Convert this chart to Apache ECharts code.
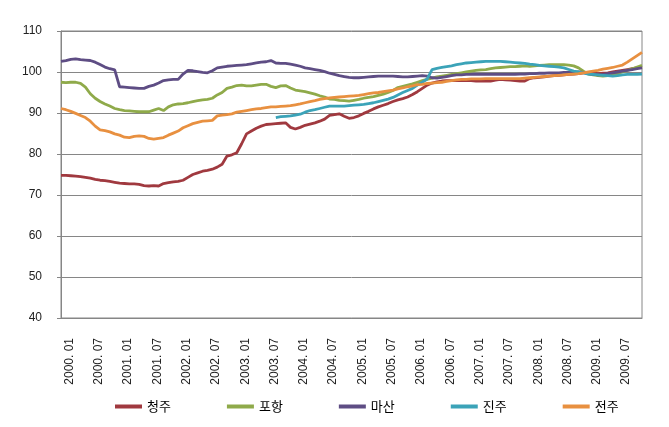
<!DOCTYPE html>
<html>
<head>
<meta charset="utf-8">
<script src="https://cdn.jsdelivr.net/npm/echarts@6/dist/echarts.min.js"></script>
<style>html,body{margin:0;padding:0;background:#fff;}#c{width:669px;height:427px;}</style>
</head>
<body>
<div id="c"></div>
<script>
// months 2000.01 .. 2009.12
var months = [];
for (var y = 2000; y <= 2009; y++) {
  for (var m = 1; m <= 12; m++) {
    months.push(y + '. ' + (m < 10 ? '0' + m : '' + m));
  }
}
var seriesNames = ['청주', '포항', '마산', '진주', '전주'];
var yTicks = [40, 50, 60, 70, 80, 90, 100, 110];

var cheongju = [
  74.8, 74.8, 74.7, 74.6, 74.5, 74.3, 74.1, 73.8, 73.6, 73.5, 73.3, 73.1,
  72.9, 72.8, 72.7, 72.7, 72.6, 72.3, 72.2, 72.3, 72.2, 72.8, 73.0, 73.2,
  73.3, 73.6, 74.3, 75.0, 75.4, 75.8, 76.0, 76.3, 76.8, 77.5, 79.5, 79.8,
  80.3, 82.5, 84.9, 85.6, 86.3, 86.8, 87.2, 87.3, 87.4, 87.5, 87.6, 86.5,
  86.1, 86.5, 87.0, 87.3, 87.6, 88.0, 88.5, 89.4, 89.6, 89.8, 89.2, 88.7,
  88.9, 89.3, 89.9, 90.4, 91.0, 91.5, 91.9, 92.3, 92.8, 93.2, 93.5, 93.9,
  94.5, 95.2, 96.0, 96.8, 97.3, 97.6, 97.8, 97.9, 97.9, 97.9, 97.9, 97.9,
  97.9, 97.8, 97.8, 97.8, 97.8, 98.0, 98.2, 98.1, 98.0, 97.9, 97.8, 97.8,
  98.4, 98.6, 98.7, 98.8, 99.0, 99.1, 99.2, 99.3, 99.4, 99.5, 99.6, 99.8,
  99.8, 99.7, 99.6, 99.7, 99.8, 100.0, 100.2, 100.4, 100.6, 100.8, 101.0, 101.2
];
var pohang = [
  97.5, 97.4, 97.5, 97.5, 97.2, 96.3, 94.7, 93.6, 92.8, 92.2, 91.7, 91.1,
  90.8, 90.6, 90.5, 90.4, 90.3, 90.3, 90.3, 90.7, 91.1, 90.6, 91.5, 92.0,
  92.2, 92.3, 92.5, 92.8, 93.0, 93.2, 93.3, 93.6, 94.4, 95.0, 96.0, 96.3,
  96.7, 96.8, 96.6, 96.6, 96.8, 97.0, 97.0, 96.5, 96.2, 96.6, 96.7, 96.1,
  95.6, 95.4, 95.2, 94.9, 94.6, 94.2, 93.9, 93.4, 93.3, 93.1, 93.0, 92.9,
  93.1, 93.3, 93.6, 93.8, 94.0, 94.3, 94.6, 95.0, 95.5, 96.2, 96.5, 96.8,
  97.1, 97.5, 97.9, 98.2, 98.5, 98.8, 99.0, 99.2, 99.4, 99.6, 99.8, 100.0,
  100.2, 100.4, 100.5, 100.6, 100.8, 101.0, 101.1, 101.2, 101.3, 101.3, 101.4, 101.5,
  101.4, 101.5, 101.6, 101.7, 101.8, 101.8, 101.8, 101.8, 101.7, 101.5, 101.0, 100.2,
  99.5, 99.3, 99.1, 99.0, 99.1, 99.3, 99.6, 100.0, 100.4, 100.8, 101.2, 101.6
];
var masan = [
  102.6, 102.8, 103.1, 103.2, 103.0, 102.9, 102.8, 102.4, 101.8, 101.2, 100.8, 100.5,
  96.4, 96.3, 96.2, 96.1, 96.0, 96.0, 96.5, 96.8, 97.3, 97.9, 98.1, 98.2,
  98.2, 99.5, 100.4, 100.3, 100.1, 99.9, 99.8, 100.3, 101.0, 101.2, 101.4, 101.5,
  101.6, 101.7, 101.8, 102.0, 102.2, 102.4, 102.5, 102.8, 102.2, 102.1, 102.1, 101.9,
  101.7, 101.4, 101.0, 100.8, 100.6, 100.4, 100.1, 99.7, 99.4, 99.1, 98.9, 98.7,
  98.6, 98.6, 98.7, 98.8, 98.9, 99.0, 99.0, 99.0, 99.0, 98.9, 98.8, 98.8,
  98.9, 99.0, 99.1, 99.0, 98.6, 98.5, 98.7, 98.9, 99.1, 99.3, 99.3, 99.4,
  99.4, 99.4, 99.4, 99.4, 99.4, 99.4, 99.4, 99.4, 99.4, 99.4, 99.5, 99.5,
  99.6, 99.6, 99.7, 99.7, 99.8, 99.8, 99.8, 99.9, 99.9, 99.9, 100.0, 99.9,
  99.6, 99.4, 99.3, 99.4, 99.6, 99.8, 100.0, 100.2, 100.4, 100.6, 100.8, 101.0
];
var jinju = [
  null, null, null, null, null, null, null, null, null, null, null, null,
  null, null, null, null, null, null, null, null, null, null, null, null,
  null, null, null, null, null, null, null, null, null, null, null, null,
  null, null, null, null, null, null, null, null, 88.9, 89.1, 89.2, 89.3,
  89.5, 89.7, 90.2, 90.6, 90.8, 91.1, 91.4, 91.7, 91.7, 91.7, 91.7, 91.8,
  91.9, 92.0, 92.1, 92.3, 92.5, 92.8, 93.1, 93.4, 93.8, 94.4, 95.0, 95.5,
  96.0, 96.8, 97.5, 98.3, 100.6, 100.9, 101.1, 101.3, 101.5, 101.8, 102.0, 102.2,
  102.3, 102.4, 102.5, 102.6, 102.6, 102.6, 102.6, 102.5, 102.4, 102.3, 102.2, 102.1,
  101.9, 101.8, 101.6, 101.5, 101.4, 101.3, 101.2, 101.0, 100.6, 100.2, 100.0, 99.8,
  99.5, 99.4, 99.3, 99.2, 99.1, 99.0, 99.1, 99.3, 99.4, 99.4, 99.4, 99.5
];
var jeonju = [
  91.1, 90.8, 90.4, 89.9, 89.4, 88.9, 88.0, 86.8, 85.9, 85.7, 85.4, 84.9,
  84.6, 84.1, 84.0, 84.3, 84.4, 84.3, 83.8, 83.6, 83.8, 84.0, 84.6, 85.1,
  85.6, 86.4, 86.9, 87.4, 87.7, 88.0, 88.1, 88.2, 89.3, 89.5, 89.6, 89.8,
  90.2, 90.4, 90.6, 90.8, 91.0, 91.1, 91.3, 91.5, 91.5, 91.6, 91.7, 91.8,
  92.0, 92.2, 92.5, 92.8, 93.0, 93.3, 93.5, 93.7, 93.8, 93.9, 94.0, 94.1,
  94.2, 94.3, 94.5, 94.7, 94.9, 95.0, 95.2, 95.4, 95.6, 95.9, 96.1, 96.4,
  96.6, 96.9, 97.0, 97.2, 97.3, 97.4, 97.5, 97.7, 97.9, 98.1, 98.2, 98.2,
  98.3, 98.3, 98.3, 98.4, 98.4, 98.4, 98.4, 98.4, 98.4, 98.4, 98.4, 98.5,
  98.6, 98.7, 98.8, 98.9, 99.0, 99.1, 99.2, 99.3, 99.4, 99.5, 99.6, 99.8,
  100.0, 100.2, 100.4, 100.7, 100.9, 101.1, 101.4, 101.7, 102.4, 103.2, 104.0, 104.8
];

var colors = ['#A0393F', '#8FAA4A', '#5E4D84', '#3BA3B8', '#E89040'];
var values = [cheongju, pohang, masan, jinju, jeonju];

var chart = echarts.init(document.getElementById('c'), null, {renderer: 'canvas'});
var axisColor = '#868686';
var option = {
  animation: false,
  color: colors,
  grid: {left: 61, right: 27, top: 31, bottom: 109, show: true, borderColor: axisColor, borderWidth: 1},
  legend: {
    left: 110, top: 395,
    icon: 'rect', itemWidth: 27, itemHeight: 4, itemGap: 56,
    textStyle: {fontFamily: 'Noto Sans CJK KR', fontSize: 13, color: '#000'},
    data: seriesNames
  },
  xAxis: {
    type: 'category',
    boundaryGap: false,
    data: months,
    axisLine: {show: true, lineStyle: {color: axisColor, width: 1}},
    axisTick: {show: false},
    splitLine: {show: false},
    axisLabel: {
      interval: 5, rotate: 90, margin: 20,
      fontFamily: 'Liberation Sans', fontSize: 12, color: '#222',
      verticalAlign: 'top', lineHeight: 17
    }
  },
  yAxis: {
    type: 'value',
    min: yTicks[0], max: yTicks[yTicks.length - 1], interval: 10,
    axisLine: {show: true, lineStyle: {color: axisColor, width: 1}},
    axisTick: {show: true, length: 4, lineStyle: {color: axisColor}},
    splitLine: {show: true, lineStyle: {color: axisColor, width: 1}},
    axisLabel: {margin: 19, fontFamily: 'Liberation Sans', fontSize: 12, color: '#222'}
  },
  series: seriesNames.map(function (n, i) {
    return {
      name: n, type: 'line', data: values[i], symbol: 'none', showSymbol: false,
      lineStyle: {width: 2.8, color: colors[i]}, itemStyle: {color: colors[i]},
      connectNulls: false
    };
  })
};
chart.setOption(option);
</script>
</body>
</html>
